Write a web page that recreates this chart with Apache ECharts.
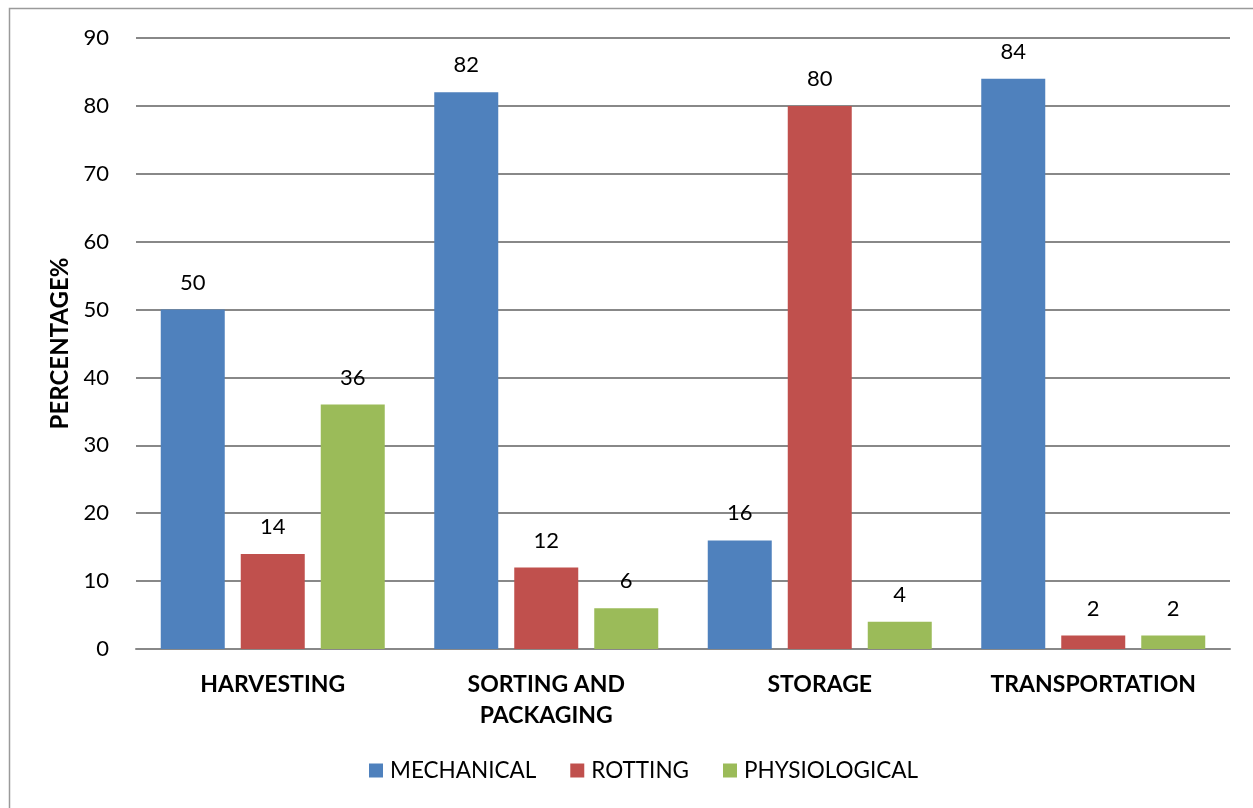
<!DOCTYPE html>
<html>
<head>
<meta charset="utf-8">
<script src="https://cdn.jsdelivr.net/npm/echarts@6/dist/echarts.min.js"></script>
<style>
  html, body { margin: 0; padding: 0; background: #fff; }
  #chart { width: 1253px; height: 808px; }
</style>
</head>
<body>
<div id="chart"></div>
<script>
const categories = ['HARVESTING', 'SORTING AND\nPACKAGING', 'STORAGE', 'TRANSPORTATION'];
const mechanical = [50, 82, 16, 84];
const rotting = [14, 12, 80, 2];
const physiological = [36, 6, 4, 2];
const yTicks = { min: 0, max: 90, interval: 10 };

const font = 'Lato, "Open Sans", sans-serif';
const chart = echarts.init(document.getElementById('chart'));

function bar(name, data, color) {
  return {
    name, type: 'bar', data,
    barWidth: 64, barGap: '25%',
    itemStyle: { color },
    label: { show: true, position: 'top', distance: 16, color: '#000', fontSize: 22, fontFamily: font }
  };
}

chart.setOption({
  animation: false,
  graphic: [{
    type: 'rect', silent: true,
    shape: { x: 9.5, y: 8.5, width: 1300, height: 900 },
    style: { fill: 'none', stroke: '#9a9a9a', lineWidth: 1.5 }
  }],
  grid: { left: 136, right: 23, top: 38, bottom: 159 },
  legend: {
    bottom: 21, left: 364, itemWidth: 14, itemHeight: 14, itemGap: 34,
    icon: 'rect',
    textStyle: { fontSize: 22.5, fontFamily: font, color: '#000', padding: [0, 0, 0, 2] },
    data: ['MECHANICAL', 'ROTTING', 'PHYSIOLOGICAL']
  },
  xAxis: {
    type: 'category', data: categories,
    axisLine: { lineStyle: { color: '#888', width: 2 } },
    axisTick: { show: false },
    axisLabel: { fontSize: 23, fontWeight: 'bold', fontFamily: font, color: '#000', margin: 20, lineHeight: 31 }
  },
  yAxis: {
    type: 'value', min: yTicks.min, max: yTicks.max, interval: yTicks.interval,
    name: 'PERCENTAGE%', nameLocation: 'middle', nameGap: 64,
    nameTextStyle: { fontSize: 24, fontWeight: 'bold', fontFamily: font, color: '#000' },
    axisLine: { show: false }, axisTick: { show: false },
    axisLabel: { fontSize: 22, fontFamily: font, color: '#000', margin: 27 },
    splitLine: { lineStyle: { color: '#888', width: 2 } }
  },
  series: [
    bar('MECHANICAL', mechanical, '#4f81bd'),
    bar('ROTTING', rotting, '#c0504d'),
    bar('PHYSIOLOGICAL', physiological, '#9bbb59')
  ]
});
</script>
</body>
</html>
